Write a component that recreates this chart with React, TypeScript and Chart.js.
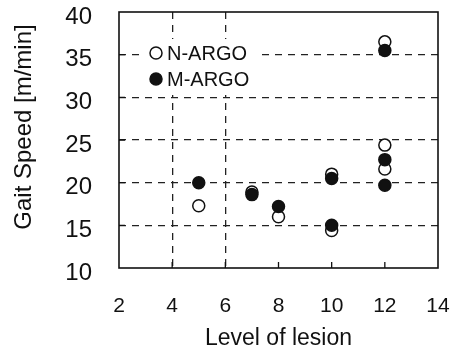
import React, { useEffect, useRef } from 'react';
import { Chart, registerables } from 'chart.js';

Chart.register(...registerables);

// ---- data ----
const seriesNames = ['N-ARGO', 'M-ARGO'];
const nArgoLevels = [5, 7, 8, 10, 10, 12, 12, 12];
const nArgoSpeeds = [17.3, 18.9, 16.0, 21.0, 14.4, 36.5, 24.4, 21.6];
const mArgoLevels = [5, 7, 8, 10, 10, 12, 12, 12];
const mArgoSpeeds = [20.0, 18.6, 17.2, 20.5, 15.0, 35.5, 22.7, 19.7];
const xTicks = [2, 4, 6, 8, 10, 12, 14];
const yTicks = [10, 15, 20, 25, 30, 35, 40];
const verticalGridAt = [4, 6];
const xTitle = 'Level of lesion';
const yTitle = 'Gait Speed [m/min]';

const FONT = '"Liberation Sans", Arial, Helvetica, sans-serif';
const INK = '#111';

const framePlugin = {
  id: 'frameTicks',
  beforeDatasetsDraw(chart: any) {
    const { ctx, chartArea: a, scales } = chart;
    ctx.save();
    ctx.setLineDash([]);
    ctx.strokeStyle = INK;
    ctx.lineWidth = 1.6;
    ctx.strokeRect(a.left, a.top, a.right - a.left, a.bottom - a.top);
    ctx.lineWidth = 1.3;
    ctx.beginPath();
    xTicks.slice(1, -1).forEach((v) => {
      const px = scales.x.getPixelForValue(v);
      ctx.moveTo(px, a.bottom);
      ctx.lineTo(px, a.bottom - 6);
    });
    yTicks.slice(1, -1).forEach((v) => {
      const py = scales.y.getPixelForValue(v);
      ctx.moveTo(a.left, py);
      ctx.lineTo(a.left + 6, py);
    });
    ctx.stroke();
    ctx.restore();
  },
};

const legendPlugin = {
  id: 'innerLegend',
  afterDatasetsDraw(chart: any) {
    const { ctx, chartArea: a } = chart;
    ctx.save();
    ctx.fillStyle = '#fff';
    ctx.fillRect(a.left + 26, a.top + 27, 113, 56);
    chart.data.datasets.forEach((ds: any, i: number) => {
      const cy = a.top + 41 + i * 26;
      const cx = a.left + 37;
      ctx.beginPath();
      ctx.arc(cx, cy, 6, 0, Math.PI * 2);
      ctx.fillStyle = ds.pointBackgroundColor;
      ctx.fill();
      ctx.lineWidth = 1.5;
      ctx.strokeStyle = ds.pointBorderColor;
      ctx.stroke();
      ctx.fillStyle = INK;
      ctx.font = `20px ${FONT}`;
      ctx.textBaseline = 'middle';
      ctx.textAlign = 'left';
      ctx.fillText(ds.label, a.left + 48, cy + 1);
    });
    ctx.restore();
  },
};

const yTitlePlugin = {
  id: 'yTitle',
  afterDraw(chart: any) {
    const { ctx } = chart;
    ctx.save();
    ctx.translate(24, 127);
    ctx.rotate(-Math.PI / 2);
    ctx.fillStyle = INK;
    ctx.font = `24px ${FONT}`;
    ctx.textAlign = 'center';
    ctx.textBaseline = 'middle';
    ctx.fillText(yTitle, 0, 0);
    ctx.restore();
  },
};

export default function App() {
  const ref = useRef<HTMLCanvasElement | null>(null);

  useEffect(() => {
    document.body.style.margin = '0';
    const canvas = ref.current;
    if (!canvas) return;
    const gridDash = (vals: number[] | null, edges: number[]) => (c: any) => {
      const v = c.tick ? c.tick.value : null;
      if (v === null || edges.includes(v)) return 'rgba(0,0,0,0)';
      if (vals && !vals.includes(v)) return 'rgba(0,0,0,0)';
      return '#222';
    };
    const chart = new Chart(canvas, {
      type: 'scatter',
      data: {
        datasets: [
          {
            label: seriesNames[0],
            data: nArgoLevels.map((x, i) => ({ x, y: nArgoSpeeds[i] })),
            pointBackgroundColor: '#ffffff',
            pointBorderColor: INK,
            pointBorderWidth: 1.5,
            pointRadius: 6,
            order: 1,
          },
          {
            label: seriesNames[1],
            data: mArgoLevels.map((x, i) => ({ x, y: mArgoSpeeds[i] })),
            pointBackgroundColor: INK,
            pointBorderColor: INK,
            pointBorderWidth: 1.5,
            pointRadius: 6,
            order: 0,
          },
        ],
      },
      options: {
        responsive: false,
        animation: false,
        devicePixelRatio: 1,
        layout: { autoPadding: false, padding: { top: 12, right: 17, bottom: 0, left: 0 } },
        plugins: {
          legend: { display: false },
          tooltip: { enabled: false },
        },
        scales: {
          x: {
            type: 'linear',
            min: 2,
            max: 14,
            afterBuildTicks: (s: any) => {
              s.ticks = xTicks.map((v) => ({ value: v }));
            },
            afterFit: (s: any) => {
              s.height = 81;
              s.paddingLeft = 0;
              s.paddingRight = 0;
            },
            ticks: {
              color: INK,
              font: { family: FONT, size: 21 },
              padding: 26,
              maxRotation: 0,
            },
            grid: {
              drawTicks: false,
              color: gridDash(verticalGridAt, [2, 14]),
              lineWidth: 1.3,
            },
            border: { display: false, dash: [7, 6] },
            title: {
              display: true,
              text: xTitle,
              color: INK,
              font: { family: FONT, size: 23, lineHeight: 0.9 },
              padding: { top: 0, bottom: 0 },
            },
          },
          y: {
            type: 'linear',
            min: 10,
            max: 40,
            afterBuildTicks: (s: any) => {
              s.ticks = yTicks.map((v) => ({ value: v }));
            },
            afterFit: (s: any) => {
              s.width = 119;
              s.paddingTop = 0;
              s.paddingBottom = 0;
            },
            ticks: {
              color: INK,
              font: { family: FONT, size: 24 },
              padding: 27,
              labelOffset: 5,
            },
            grid: {
              drawTicks: false,
              color: gridDash(null, [10, 40]),
              lineWidth: 1.3,
            },
            border: { display: false, dash: [7, 6] },
            title: { display: false, text: yTitle },
          },
        },
      },
      plugins: [framePlugin, legendPlugin, yTitlePlugin],
    } as any);
    return () => chart.destroy();
  }, []);

  return (
    <div style={{ width: 455, height: 349, background: '#fff' }}>
      <canvas ref={ref} width={455} height={349} />
    </div>
  );
}
